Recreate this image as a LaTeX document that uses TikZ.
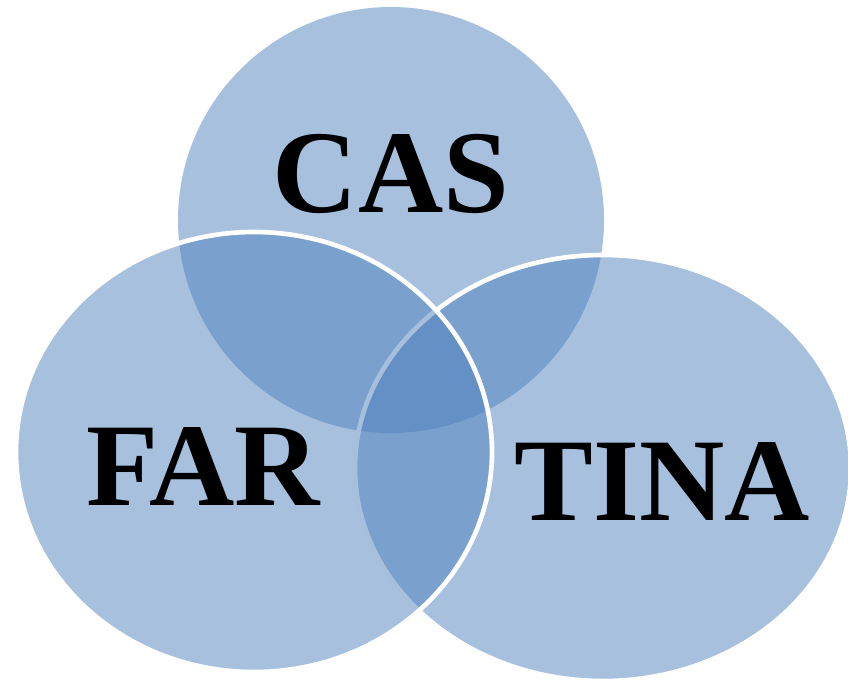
\documentclass[tikz,border=0pt]{standalone}
\usepackage{fontspec}
\setmainfont{Liberation Serif}
\usepackage{tikz}

\definecolor{vennblue}{RGB}{79,129,189}
\tikzset{
  vennfill/.style={fill=vennblue, fill opacity=0.5},
  vennline/.style={draw=white, line width=3.3pt},
  vennlabel/.style={anchor=base, font=\fontsize{84}{84}\selectfont\bfseries, text=black}
}

\begin{document}
\begin{tikzpicture}
\useasboundingbox (0,0) rectangle (21.2,-17);
\clip (0,0) rectangle (21.2,-17);
\coordinate (cas) at (9.775,-5.5);
\coordinate (far) at (6.35,-11.3);
\coordinate (tina) at (15.075,-11.7);
 \fill[vennfill]  (cas) ellipse [x radius=5.325cm, y radius=5.325cm];
 \fill[vennfill]  (tina) ellipse [x radius=6.2cm, y radius=5.325cm];
 \draw[vennline]  (tina) ellipse [x radius=6.2cm, y radius=5.325cm];
 \fill[vennfill]  (far) ellipse [x radius=5.95cm, y radius=5.5cm];
 \draw[vennline]  (far) ellipse [x radius=5.95cm, y radius=5.5cm];
 \node[vennlabel] (caslabel) at (9.775,-5.3) {CAS};
 \node[vennlabel] (farlabel) at (5.075,-12.625) {FAR};
 \node[vennlabel] (tinalabel) at (16.55,-13.0) {TINA};
\end{tikzpicture}
\end{document}
